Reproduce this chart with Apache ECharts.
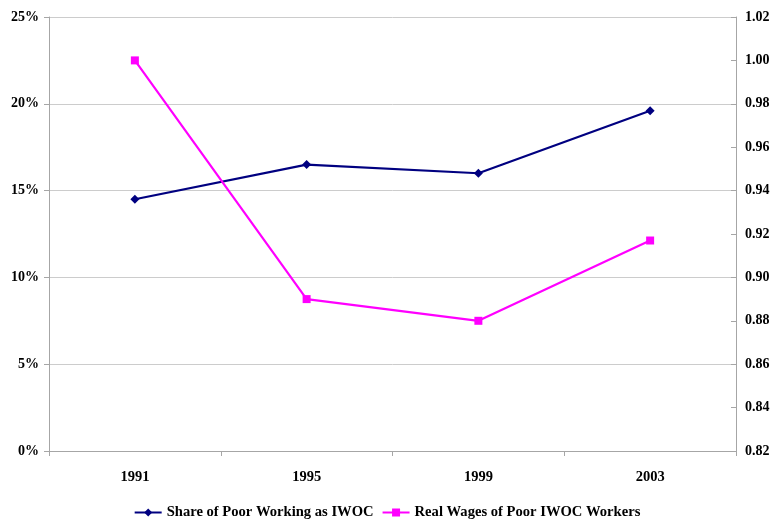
<!DOCTYPE html>
<html>
<head>
<meta charset="utf-8">
<script src="https://cdn.jsdelivr.net/npm/echarts@6/dist/echarts.min.js"></script>
<style>
  html, body { margin: 0; padding: 0; background: #fff; }
  #chart { width: 774px; height: 521px; }
</style>
</head>
<body>
<div id="chart"></div>
<script>
// Survey years
const years = ['1991', '1995', '1999', '2003'];
// Share of poor workers employed as IWOC (percent)
const shareIWOC = [14.5, 16.5, 16.0, 19.6];
// Real wages of poor IWOC workers (index, 1991 = 1.00)
const realWages = [1.00, 0.89, 0.88, 0.917];

const leftTicks = { min: 0, max: 25, interval: 5 };
const rightTicks = { min: 0.82, max: 1.02, interval: 0.02 };

const FONT = '"Liberation Serif", "DejaVu Serif", serif';
const AXIS_GREY = '#a6a6a6';

const chart = echarts.init(document.getElementById('chart'), null, { renderer: 'canvas' });

chart.setOption({
  animation: false,
  backgroundColor: '#ffffff',
  textStyle: { fontFamily: FONT },
  grid: { left: 49, right: 38, top: 17, bottom: 70 },
  legend: {
    top: 505,
    left: 'center',
    padding: 0,
    itemWidth: 27,
    itemHeight: 10,
    itemGap: 8,
    textStyle: { fontFamily: FONT, fontWeight: 'bold', fontSize: 14.6, color: '#000' },
    data: ['Share of Poor Working as IWOC', 'Real Wages of Poor IWOC Workers']
  },
  xAxis: {
    type: 'category',
    data: years,
    boundaryGap: true,
    axisLine: { lineStyle: { color: AXIS_GREY, width: 1 } },
    axisTick: { show: true, alignWithLabel: false, length: 5, lineStyle: { color: AXIS_GREY } },
    axisLabel: { margin: 19, fontFamily: FONT, fontWeight: 'bold', fontSize: 14.5, color: '#000' },
    splitLine: { show: false }
  },
  yAxis: [
    {
      type: 'value',
      position: 'left',
      min: leftTicks.min,
      max: leftTicks.max,
      interval: leftTicks.interval,
      axisLine: { show: true, lineStyle: { color: AXIS_GREY } },
      axisTick: { show: true, length: 5, lineStyle: { color: AXIS_GREY } },
      axisLabel: {
        margin: 10,
        formatter: v => v + '%',
        fontFamily: FONT, fontWeight: 'bold', fontSize: 14, color: '#000'
      },
      splitLine: { show: true, lineStyle: { color: '#cccccc', width: 1 } }
    },
    {
      type: 'value',
      position: 'right',
      min: rightTicks.min,
      max: rightTicks.max,
      interval: rightTicks.interval,
      axisLine: { show: true, lineStyle: { color: AXIS_GREY } },
      axisTick: { show: true, inside: true, length: 5, lineStyle: { color: AXIS_GREY } },
      axisLabel: {
        margin: 9,
        formatter: v => v.toFixed(2),
        fontFamily: FONT, fontWeight: 'bold', fontSize: 14, color: '#000'
      },
      splitLine: { show: false }
    }
  ],
  series: [
    {
      name: 'Share of Poor Working as IWOC',
      type: 'line',
      yAxisIndex: 0,
      data: shareIWOC,
      symbol: 'diamond',
      symbolSize: 9,
      lineStyle: { color: '#000080', width: 2.2 },
      itemStyle: { color: '#000080' }
    },
    {
      name: 'Real Wages of Poor IWOC Workers',
      type: 'line',
      yAxisIndex: 1,
      data: realWages,
      symbol: 'rect',
      symbolSize: 8,
      lineStyle: { color: '#ff00ff', width: 2.2 },
      itemStyle: { color: '#ff00ff' }
    }
  ]
});
</script>
</body>
</html>
